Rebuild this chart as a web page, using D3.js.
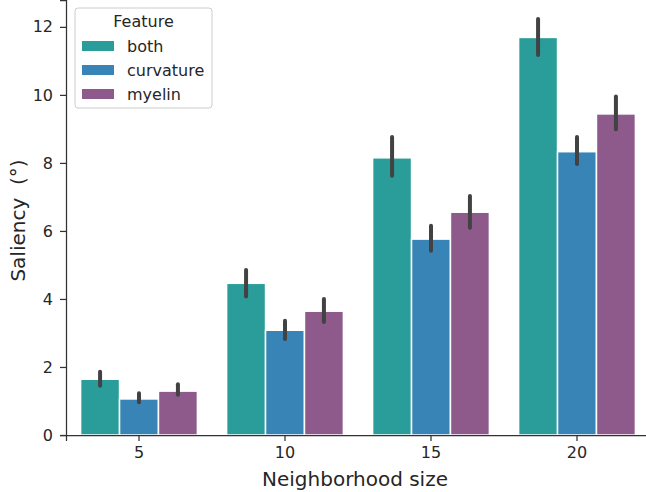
<!DOCTYPE html>
<meta charset="utf-8">
<script src="https://d3js.org/d3.v7.min.js"></script>
<style>
  body { margin: 0; background: #fff; }
  text { font-family: "DejaVu Sans", sans-serif; fill: #262626; }
</style>
<body>
<div id="chart"></div>
<script>
var sizes = ["5", "10", "15", "20"];
var features = ["both", "curvature", "myelin"];
var colors = ["#2a9d9a", "#3984b6", "#8d5a8b"];

// mean and 95% ci per feature, in order of sizes
var means = {
  both:      [1.64, 4.46, 8.15, 11.69],
  curvature: [1.06, 3.08, 5.76, 8.33],
  myelin:    [1.29, 3.64, 6.55, 9.44]
};
var ciLow = {
  both:      [1.45, 4.07, 7.62, 11.17],
  curvature: [0.96, 2.82, 5.42, 7.97],
  myelin:    [1.18, 3.32, 6.09, 8.99]
};
var ciHigh = {
  both:      [1.86, 4.85, 8.76, 12.23],
  curvature: [1.23, 3.36, 6.15, 8.76],
  myelin:    [1.49, 4.00, 7.03, 9.95]
};
var yTicks = [0, 2, 4, 6, 8, 10, 12];

var width = 646, height = 492;
var margin = {top: 0, right: -4, bottom: 57, left: 66};
var w = width - margin.left - margin.right,
    h = height - margin.top - margin.bottom;

var svg = d3.select("#chart").append("svg")
    .attr("width", width)
    .attr("height", height);

var g = svg.append("g")
    .attr("transform", "translate(" + margin.left + "," + margin.top + ")");

var x0 = d3.scaleBand().domain(sizes).range([0, w])
    .paddingInner(0.2).paddingOuter(0.1);
var x1 = d3.scaleBand().domain(features).range([0, x0.bandwidth()]);
var y = d3.scaleLinear().domain([0, 12.79]).range([h, 0]);
var color = d3.scaleOrdinal().domain(features).range(colors);

var rows = [];
sizes.forEach(function(s, i) {
  features.forEach(function(f) {
    rows.push({size: s, feature: f, mean: means[f][i], lo: ciLow[f][i], hi: ciHigh[f][i]});
  });
});

// bars
g.append("g").selectAll("rect")
  .data(rows)
  .enter().append("rect")
    .attr("x", d => x0(d.size) + x1(d.feature))
    .attr("y", d => y(d.mean))
    .attr("width", x1.bandwidth())
    .attr("height", d => h - y(d.mean))
    .style("fill", d => color(d.feature))
    .style("stroke", "#fff")
    .style("stroke-width", 1.5);

// error bars
g.append("g").selectAll("line")
  .data(rows)
  .enter().append("line")
    .attr("x1", d => x0(d.size) + x1(d.feature) + x1.bandwidth() / 2)
    .attr("x2", d => x0(d.size) + x1(d.feature) + x1.bandwidth() / 2)
    .attr("y1", d => y(d.lo))
    .attr("y2", d => y(d.hi))
    .style("stroke", "#424242")
    .style("stroke-width", 4)
    .style("stroke-linecap", "round");

// axes
var xAxis = g.append("g")
    .attr("transform", "translate(0," + h + ")")
    .call(d3.axisBottom(x0).tickSizeOuter(0).tickSize(6).tickPadding(6));
var yAxis = g.append("g")
    .call(d3.axisLeft(y).tickValues(yTicks).tickSizeOuter(0).tickSize(6).tickPadding(7));

[xAxis, yAxis].forEach(function(a) {
  a.attr("font-size", null);
  a.selectAll("path, line").style("stroke", "#333").style("stroke-width", 1.25);
  a.selectAll("text").style("font-size", "16px").style("fill", "#262626")
    .style("font-family", "'DejaVu Sans', sans-serif");
});

svg.append("text")
    .attr("x", margin.left + x0.range()[1] / 2 - 3)
    .attr("y", 486)
    .attr("text-anchor", "middle")
    .style("font-size", "20px")
    .text("Neighborhood size");

svg.append("text")
    .attr("transform", "translate(25," + (h / 2 + 3) + ") rotate(-90)")
    .attr("text-anchor", "middle")
    .style("font-size", "20px")
    .text("Saliency\u00a0\u00a0(°)");

// legend
var leg = svg.append("g").attr("transform", "translate(75,8)");
leg.append("rect")
    .attr("width", 137).attr("height", 100).attr("rx", 3)
    .style("fill", "#fff").style("fill-opacity", 0.8)
    .style("stroke", "#ccc").style("stroke-width", 1);
leg.append("text")
    .attr("x", 68.5).attr("y", 19)
    .attr("text-anchor", "middle")
    .style("font-size", "16px")
    .text("Feature");
var item = leg.selectAll(".item")
  .data(features)
  .enter().append("g")
    .attr("transform", (d, i) => "translate(7," + (33 + i * 24) + ")");
item.append("rect")
    .attr("width", 32).attr("height", 10)
    .style("fill", d => color(d));
item.append("text")
    .attr("x", 45).attr("y", 11)
    .style("font-size", "16px")
    .text(d => d);
</script>
</body>
</html>
